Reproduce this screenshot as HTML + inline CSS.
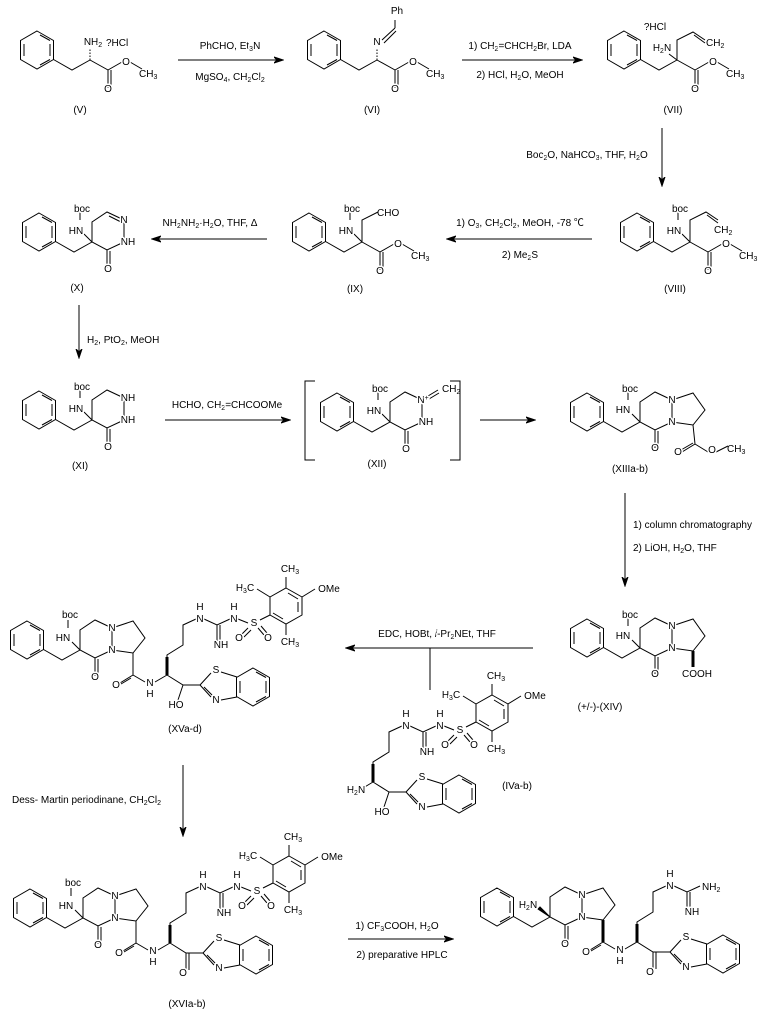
<!DOCTYPE html>
<html><head><meta charset="utf-8"><style>
html,body{margin:0;padding:0;background:#fff}
svg{display:block}
text{font-family:"Liberation Sans","Noto Sans CJK SC",sans-serif;font-size:10px;fill:#000}
.m{text-anchor:middle;stroke:#fff;stroke-width:3px;paint-order:stroke;stroke-linejoin:round}
.s{font-size:7px}
path,line,polygon,polyline{stroke:#000;stroke-width:1;fill:none}
.w{stroke-width:3}
</style></head><body>
<svg width="763" height="1014" viewBox="0 0 763 1014" xmlns="http://www.w3.org/2000/svg">
<defs>
<marker id="ah" markerWidth="10" markerHeight="8" refX="9" refY="4" orient="auto" markerUnits="userSpaceOnUse"><path d="M0,1 L9,4 L0,7 L3,4 Z" style="fill:#000;stroke:#000"/></marker>
<g id="ring">
<polygon points="0,-19 16.5,-9.5 16.5,9.5 0,19 -16.5,9.5 -16.5,-9.5"/>
<path d="M3,-15 L13,-9.5 M13,-6 L13,6 M3,15 L13,9.5 M-13,-6 L-13,6"/>
</g>
<g id="bz"><use href="#ring" x="-53" y="-10"/><path d="M-36.5,-0.5 L-18,10 L0,0"/></g>
<g id="ester"><path d="M0,0 L18,10 L18,28 M21,10 L21,28 M18,10 L32,2 M40,2 L52,9"/></g>
<g id="core">
<use href="#bz"/>
<path d="M0,0 L0,-20 L15,-30 L32,-22 L32,0 L15,8 Z M15,8 L15,26 M18,9 L18,26 M32,-22 L53,-29 L65,-12 L53,3 L32,0 M0,0 L-8,-8 M-12,-22 L-12,-30"/>
</g>
<g id="side">
<path d="M87,25 L103,35 L120,35 M87,25 L87,5 L103,-5 L103,-25 L116,-31 M124,-31 L137,-25 L150,-31 M137,-25 L137,-9 M140,-25 L140,-9 M158,-31 L168,-27 M180,-30 L190,-35 M168,-22 L161,-15 M171,-20 L164,-13 M178,-22 L184,-15 M181,-24 L187,-17"/>
<path class="w" d="M87,25 L87,7"/>
<polygon points="206,-62 222,-53 222,-35 206,-26 190,-35 190,-53"/>
<path d="M208,-57 L218,-51 M218,-48 L218,-38 M193,-37 L203,-31 M190,-53 L177,-61 M206,-62 L206,-73 M222,-53 L235,-61 M206,-26 L206,-15"/>
<path d="M120,35 L131,23 M141,22 L157,27 M120,35 L131,47 M124,37 L133,46 M141,50 L157,47"/>
<use href="#ring" x="173" y="37"/>
</g>
<g id="arm">
<path d="M53,3 L53,25 M53,25 L40,33 M51,28 L41,34 M53,25 L65,32 M75,32 L87,25"/>
<use href="#side"/>
</g>
</defs>

<!-- Row 1 -->
<g transform="translate(90,60)"><use href="#bz"/><use href="#ester"/><path d="M0,0 L0,-12" stroke-dasharray="1.5,1.5"/></g>
<text class="m" x="93" y="45">NH<tspan class="s" dy="2">2</tspan></text><text x="106" y="46">?HCl</text>
<text class="m" x="108" y="92">O</text><text class="m" x="126" y="65">O</text><text x="139" y="77">CH<tspan class="s" dy="2">3</tspan></text>
<text class="m" x="80" y="113">(V)</text>
<line x1="178" y1="60" x2="283" y2="60" marker-end="url(#ah)"/>
<text class="m" x="230" y="49">PhCHO, Et<tspan class="s" dy="2">3</tspan><tspan dy="-2">N</tspan></text>
<text class="m" x="230" y="80">MgSO<tspan class="s" dy="2">4</tspan><tspan dy="-2">, CH</tspan><tspan class="s" dy="2">2</tspan><tspan dy="-2">Cl</tspan><tspan class="s" dy="2">2</tspan></text>

<g transform="translate(377,60)"><use href="#bz"/><use href="#ester"/><path d="M0,0 L0,-12" stroke-dasharray="1.5,1.5"/><path d="M5,-20 L18,-32 M7,-17 L19,-29 M18,-32 L18,-40"/></g>
<text class="m" x="377" y="45">N</text><text class="m" x="397" y="14">Ph</text>
<text class="m" x="395" y="92">O</text><text class="m" x="413" y="65">O</text><text x="426" y="77">CH<tspan class="s" dy="2">3</tspan></text>
<text class="m" x="372" y="113">(VI)</text>
<line x1="462" y1="60" x2="582" y2="60" marker-end="url(#ah)"/>
<text class="m" x="520" y="49">1) CH<tspan class="s" dy="2">2</tspan><tspan dy="-2">=CHCH</tspan><tspan class="s" dy="2">2</tspan><tspan dy="-2">Br, LDA</tspan></text>
<text class="m" x="520" y="78">2) HCl, H<tspan class="s" dy="2">2</tspan><tspan dy="-2">O, MeOH</tspan></text>

<g transform="translate(677,60)"><use href="#bz"/><use href="#ester"/><path d="M0,0 L-8,-6 M0,0 L0,-20 L16,-28 L28,-20 M17,-25 L28,-17"/></g>
<text class="m" x="662" y="51">H<tspan class="s" dy="2">2</tspan><tspan dy="-2">N</tspan></text><text class="m" x="655" y="30">?HCl</text>
<text x="706" y="46">CH<tspan class="s" dy="2">2</tspan></text>
<text class="m" x="695" y="92">O</text><text class="m" x="713" y="65">O</text><text x="726" y="77">CH<tspan class="s" dy="2">3</tspan></text>
<text class="m" x="673" y="113">(VII)</text>
<line x1="662" y1="128" x2="662" y2="186" marker-end="url(#ah)"/>
<text class="m" x="587" y="158">Boc<tspan class="s" dy="2">2</tspan><tspan dy="-2">O, NaHCO</tspan><tspan class="s" dy="2">3</tspan><tspan dy="-2">, THF, H</tspan><tspan class="s" dy="2">2</tspan><tspan dy="-2">O</tspan></text>

<!-- Row 2 -->
<g transform="translate(690,242)"><use href="#bz"/><use href="#ester"/><path d="M0,0 L-8,-8 M-12,-22 L-12,-30 M0,0 L0,-22 L16,-30 L28,-22 M17,-27 L28,-19"/></g>
<text class="m" x="674" y="234">HN</text><text class="m" x="680" y="212">boc</text><text x="714" y="233">CH<tspan class="s" dy="2">2</tspan></text>
<text class="m" x="708" y="274">O</text><text class="m" x="726" y="247">O</text><text x="739" y="259">CH<tspan class="s" dy="2">3</tspan></text>
<text class="m" x="675" y="292">(VIII)</text>
<line x1="592" y1="239" x2="447" y2="239" marker-end="url(#ah)"/>
<text class="m" x="520" y="226">1) O<tspan class="s" dy="2">3</tspan><tspan dy="-2">, CH</tspan><tspan class="s" dy="2">2</tspan><tspan dy="-2">Cl</tspan><tspan class="s" dy="2">2</tspan><tspan dy="-2">, MeOH, -78 ℃</tspan></text>
<text class="m" x="520" y="258">2) Me<tspan class="s" dy="2">2</tspan><tspan dy="-2">S</tspan></text>

<g transform="translate(362,242)"><use href="#bz"/><use href="#ester"/><path d="M0,0 L-8,-8 M-12,-22 L-12,-30 M0,0 L0,-22 L16,-30"/></g>
<text class="m" x="346" y="234">HN</text><text class="m" x="352" y="212">boc</text><text x="377" y="216">CHO</text>
<text class="m" x="380" y="274">O</text><text class="m" x="398" y="247">O</text><text x="411" y="259">CH<tspan class="s" dy="2">3</tspan></text>
<text class="m" x="355" y="292">(IX)</text>
<line x1="267" y1="239" x2="152" y2="239" marker-end="url(#ah)"/>
<text class="m" x="210" y="226">NH<tspan class="s" dy="2">2</tspan><tspan dy="-2">NH</tspan><tspan class="s" dy="2">2</tspan><tspan dy="-2">·H</tspan><tspan class="s" dy="2">2</tspan><tspan dy="-2">O, THF, Δ</tspan></text>

<g transform="translate(92,242)"><use href="#bz"/><path d="M0,0 L-8,-8 M-12,-22 L-12,-30 M0,0 L0,-20 L15,-30 L32,-22 L32,0 L15,8 Z M17,-26 L29,-20 M15,8 L15,26 M18,9 L18,26"/></g>
<text class="m" x="76" y="234">HN</text><text class="m" x="82" y="212">boc</text>
<text class="m" x="124" y="223">N</text><text class="m" x="128" y="245">NH</text><text class="m" x="108" y="272">O</text>
<text class="m" x="77" y="291">(X)</text>
<line x1="79" y1="305" x2="79" y2="358" marker-end="url(#ah)"/>
<text x="87" y="343">H<tspan class="s" dy="2">2</tspan><tspan dy="-2">, PtO</tspan><tspan class="s" dy="2">2</tspan><tspan dy="-2">, MeOH</tspan></text>

<!-- Row 3 -->
<g transform="translate(92,420)"><use href="#bz"/><path d="M0,0 L-8,-8 M-12,-22 L-12,-30 M0,0 L0,-20 L15,-30 L32,-22 L32,0 L15,8 Z M15,8 L15,26 M18,9 L18,26"/></g>
<text class="m" x="76" y="412">HN</text><text class="m" x="82" y="390">boc</text>
<text class="m" x="128" y="401">NH</text><text class="m" x="128" y="423">NH</text><text class="m" x="108" y="450">O</text>
<text class="m" x="80" y="469">(XI)</text>
<line x1="165" y1="420" x2="290" y2="420" marker-end="url(#ah)"/>
<text class="m" x="227" y="408">HCHO, CH<tspan class="s" dy="2">2</tspan><tspan dy="-2">=CHCOOMe</tspan></text>

<path d="M315,381 L305,381 L305,460 L315,460 M450,381 L460,381 L460,460 L450,460"/>
<g transform="translate(390,422)"><use href="#bz"/><path d="M0,0 L-8,-8 M-12,-22 L-12,-30 M0,0 L0,-20 L15,-30 L32,-22 L32,0 L15,8 Z M15,8 L15,26 M18,9 L18,26 M38,-26 L48,-32 M39,-23 L49,-29"/></g>
<text class="m" x="374" y="414">HN</text><text class="m" x="380" y="392">boc</text>
<text class="m" x="423" y="403">N<tspan class="s" dy="-3">+</tspan></text><text x="442" y="392">CH<tspan class="s" dy="2">2</tspan></text>
<text class="m" x="426" y="425">NH</text><text class="m" x="406" y="452">O</text>
<text class="m" x="377" y="467">(XII)</text>
<line x1="480" y1="420" x2="535" y2="420" marker-end="url(#ah)"/>

<g transform="translate(640,422)"><use href="#core"/><path d="M53,3 L55,22 L42,30 M53,21 L41,28 M55,22 L68,30 M76,30 L88,24"/></g>
<text class="m" x="672" y="403">N</text><text class="m" x="672" y="425">N</text><text class="m" x="623" y="413">HN</text><text class="m" x="630" y="392">boc</text>
<text class="m" x="655" y="451">O</text><text class="m" x="678" y="455">O</text><text class="m" x="712" y="453">O</text><text x="727" y="452">CH<tspan class="s" dy="2">3</tspan></text>
<text class="m" x="630" y="472">(XIIIa-b)</text>
<line x1="625" y1="493" x2="625" y2="586" marker-end="url(#ah)"/>
<text x="633" y="528">1) column chromatography</text>
<text x="633" y="551">2) LiOH, H<tspan class="s" dy="2">2</tspan><tspan dy="-2">O, THF</tspan></text>

<g transform="translate(640,648)"><use href="#core"/><path class="w" d="M53,3 L53,19"/></g>
<text class="m" x="672" y="629">N</text><text class="m" x="672" y="651">N</text><text class="m" x="623" y="639">HN</text><text class="m" x="630" y="618">boc</text>
<text class="m" x="655" y="677">O</text><text x="682" y="677">COOH</text>
<text class="m" x="600" y="710">(+/-)-(XIV)</text>

<line x1="533" y1="648" x2="346" y2="648" marker-end="url(#ah)"/>
<line x1="430" y1="648" x2="430" y2="690"/>
<text class="m" x="437" y="637">EDC, HOBt, <tspan font-style="italic">i</tspan>-Pr<tspan class="s" dy="2">2</tspan><tspan dy="-2">NEt, THF</tspan></text>

<!-- XV -->
<g transform="translate(80,650)"><use href="#core"/><use href="#arm"/><path d="M103,35 L98,50"/></g>
<g transform="translate(80,650)">
<text class="m" x="32" y="-19">N</text><text class="m" x="32" y="3">N</text><text class="m" x="-17" y="-9">HN</text><text class="m" x="-10" y="-32">boc</text><text class="m" x="15" y="30">O</text>
<text class="m" x="36" y="38">O</text><text class="m" x="70" y="36">N</text><text class="m" x="70" y="47">H</text><text class="m" x="96" y="58">HO</text>
<text class="m" x="120" y="-28">N</text><text class="m" x="120" y="-40">H</text><text class="m" x="141" y="-2">NH</text><text class="m" x="154" y="-28">N</text><text class="m" x="154" y="-40">H</text>
<text class="m" x="174" y="-24">S</text><text class="m" x="159" y="-9">O</text><text class="m" x="188" y="-9">O</text>
<text class="m" x="165" y="-59">H<tspan class="s" dy="2">3</tspan><tspan dy="-2">C</tspan></text><text class="m" x="210" y="-78">CH<tspan class="s" dy="2">3</tspan></text><text class="m" x="249" y="-58">OMe</text><text class="m" x="210" y="-5">CH<tspan class="s" dy="2">3</tspan></text>
<text class="m" x="136" y="23">S</text><text class="m" x="136" y="53">N</text>
</g>
<text class="m" x="185" y="732">(XVa-d)</text>

<!-- IV -->
<g transform="translate(286,757)"><use href="#side"/><path d="M87,25 L77,31 M103,35 L98,50"/></g>
<g transform="translate(286,757)">
<text class="m" x="70" y="36">H<tspan class="s" dy="2">2</tspan><tspan dy="-2">N</tspan></text><text class="m" x="96" y="58">HO</text>
<text class="m" x="120" y="-28">N</text><text class="m" x="120" y="-40">H</text><text class="m" x="141" y="-2">NH</text><text class="m" x="154" y="-28">N</text><text class="m" x="154" y="-40">H</text>
<text class="m" x="174" y="-24">S</text><text class="m" x="159" y="-9">O</text><text class="m" x="188" y="-9">O</text>
<text class="m" x="165" y="-59">H<tspan class="s" dy="2">3</tspan><tspan dy="-2">C</tspan></text><text class="m" x="210" y="-78">CH<tspan class="s" dy="2">3</tspan></text><text class="m" x="249" y="-58">OMe</text><text class="m" x="210" y="-5">CH<tspan class="s" dy="2">3</tspan></text>
<text class="m" x="136" y="23">S</text><text class="m" x="136" y="53">N</text>
</g>
<text class="m" x="517" y="789">(IVa-b)</text>

<line x1="183" y1="765" x2="183" y2="836" marker-end="url(#ah)"/>
<text x="12" y="803">Dess- Martin periodinane, CH<tspan class="s" dy="2">2</tspan><tspan dy="-2">Cl</tspan><tspan class="s" dy="2">2</tspan></text>

<!-- XVI -->
<g transform="translate(83,918)"><use href="#core"/><use href="#arm"/><path d="M103,35 L103,52 M106,35 L106,52"/></g>
<g transform="translate(83,918)">
<text class="m" x="32" y="-19">N</text><text class="m" x="32" y="3">N</text><text class="m" x="-17" y="-9">HN</text><text class="m" x="-10" y="-32">boc</text><text class="m" x="15" y="30">O</text>
<text class="m" x="36" y="38">O</text><text class="m" x="70" y="36">N</text><text class="m" x="70" y="47">H</text><text class="m" x="100" y="58">O</text>
<text class="m" x="120" y="-28">N</text><text class="m" x="120" y="-40">H</text><text class="m" x="141" y="-2">NH</text><text class="m" x="154" y="-28">N</text><text class="m" x="154" y="-40">H</text>
<text class="m" x="174" y="-24">S</text><text class="m" x="159" y="-9">O</text><text class="m" x="188" y="-9">O</text>
<text class="m" x="165" y="-59">H<tspan class="s" dy="2">3</tspan><tspan dy="-2">C</tspan></text><text class="m" x="210" y="-78">CH<tspan class="s" dy="2">3</tspan></text><text class="m" x="249" y="-58">OMe</text><text class="m" x="210" y="-5">CH<tspan class="s" dy="2">3</tspan></text>
<text class="m" x="136" y="23">S</text><text class="m" x="136" y="53">N</text>
</g>
<text class="m" x="187" y="1007">(XVIa-b)</text>

<line x1="348" y1="939" x2="453" y2="939" marker-end="url(#ah)"/>
<text class="m" x="397" y="929">1) CF<tspan class="s" dy="2">3</tspan><tspan dy="-2">COOH, H</tspan><tspan class="s" dy="2">2</tspan><tspan dy="-2">O</tspan></text>
<text class="m" x="402" y="958">2) preparative HPLC</text>

<!-- Final -->
<g transform="translate(550,917)">
<use href="#bz"/>
<path d="M0,0 L0,-20 L15,-30 L32,-22 L32,0 L15,8 Z M15,8 L15,26 M18,9 L18,26 M32,-22 L53,-29 L65,-12 L53,3 L32,0"/>
<polygon points="0,0 -12,-8 -10,-10" style="fill:#000"/>
<path d="M53,25 L40,33 M51,28 L41,34 M53,25 L65,32 M75,32 L87,25 L103,35 L120,35 M87,25 L87,5 L103,-5 L103,-25 L116,-31 M124,-31 L137,-25 L150,-31 M137,-25 L137,-9 M140,-25 L140,-9 M103,35 L103,52 M106,35 L106,52 M120,35 L131,23 M141,22 L157,27 M120,35 L131,47 M124,37 L133,46 M141,50 L157,47"/>
<path class="w" d="M53,3 L53,25 M87,25 L87,7"/>
<use href="#ring" x="173" y="37"/>
<text class="m" x="32" y="-19">N</text><text class="m" x="32" y="3">N</text><text class="m" x="-22" y="-9">H<tspan class="s" dy="2">2</tspan><tspan dy="-2">N</tspan></text><text class="m" x="15" y="30">O</text>
<text class="m" x="36" y="38">O</text><text class="m" x="70" y="36">N</text><text class="m" x="70" y="47">H</text><text class="m" x="100" y="58">O</text>
<text class="m" x="120" y="-28">N</text><text class="m" x="120" y="-40">H</text><text class="m" x="142" y="-2">NH</text><text x="152" y="-27">NH<tspan class="s" dy="2">2</tspan></text>
<text class="m" x="136" y="23">S</text><text class="m" x="136" y="53">N</text>
</g>
</svg>
</body></html>
